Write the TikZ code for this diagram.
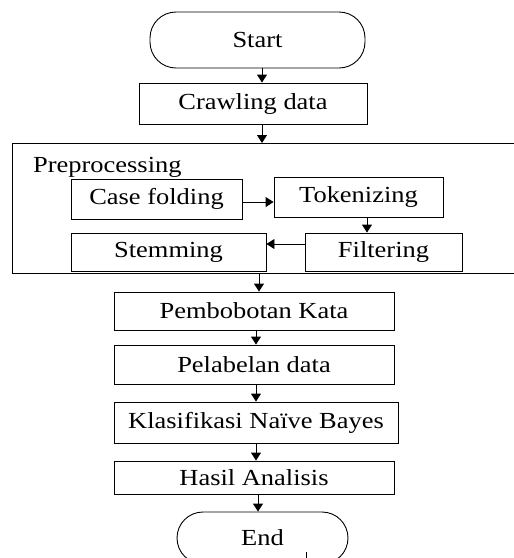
\documentclass[tikz,border=0pt]{standalone}
\usepackage{fontspec}
\usepackage{graphicx}
\setmainfont{Liberation Serif}
\usetikzlibrary{arrows.meta}
\newcommand{\TT}[1]{\scalebox{1.15}[1]{#1}}
\tikzset{
  box/.style={draw, line width=0.9pt, inner sep=0pt, font=\fontsize{23}{27}\selectfont},
  term/.style={box, rounded corners=26pt},
  arr/.style={line width=0.9pt, -{Triangle[length=8pt,width=10pt]}},
  ln/.style={line width=0.9pt}
}
\begin{document}
\begin{tikzpicture}[x=1pt,y=-1pt]
\useasboundingbox (0,0) rectangle (514,558);
% terminals and boxes
\node[term, minimum width=215pt, minimum height=56pt] (start) at (257.5,40) {\TT{Start}};
\node[box, minimum width=228pt, minimum height=41pt] (crawl) at (253,103.5) {\TT{Crawling data}};
% preprocessing frame (open on the right)
\draw[ln] (516,143) -| (12,273) -- (516,273);
\coordinate (preT) at (262,143);
\coordinate (preB) at (259,273);
\node[anchor=base west, inner sep=0pt, font=\fontsize{23}{27}\selectfont] (prelabel) at (33,172) {\TT{Preprocessing}};
\node[box, minimum width=171pt, minimum height=40pt] (cf) at (156.5,199) {\TT{Case folding}};
\node[box, minimum width=169pt, minimum height=40pt] (tok) at (358.5,197) {\TT{Tokenizing}};
\node[box, minimum width=157pt, minimum height=38pt] (fil) at (383.5,252) {\raisebox{-2pt}{\TT{Filtering}}};
\node[box, minimum width=195pt, minimum height=38pt] (stem) at (168.5,252) {\TT{Stemming}};
\node[box, minimum width=280pt, minimum height=38pt] (pemb) at (254,311) {\TT{Pembobotan Kata}};
\node[box, minimum width=280pt, minimum height=39pt] (pel) at (254,364.5) {\TT{Pelabelan data}};
\node[box, minimum width=284pt, minimum height=41pt] (klas) at (256,422.5) {\TT{Klasifikasi Naïve Bayes}};
\node[box, minimum width=280pt, minimum height=33pt] (hasil) at (254,477.5) {\TT{Hasil Analisis}};
\begin{scope}
\clip (0,0) rectangle (514,558);
\node[term, minimum width=171pt, minimum height=52pt] (endn) at (262.5,538) {\TT{End}};
\coordinate (tickA) at (306,552);
\coordinate (tickB) at (306,560);
\draw[ln] (tickA) -- (tickB);
\end{scope}
% connector x positions
\coordinate (x1) at (262,0);
\coordinate (x2) at (259,0);
\coordinate (x3) at (256,0);
\coordinate (x4) at (258,0);
\coordinate (x5) at (367,0);
\coordinate (y1) at (0,202);
\coordinate (y2) at (0,244);
% connectors
\draw[arr] (start.south -| x1) -- (crawl.north -| x1);
\draw[arr] (crawl.south -| x1) -- (preT);
\draw[arr] (cf.east |- y1) -- (tok.west |- y1);
\draw[arr] (tok.south -| x5) -- (fil.north -| x5);
\draw[arr] (fil.west |- y2) -- (stem.east |- y2);
\draw[arr] (preB) -- (pemb.north -| x2);
\draw[arr] (pemb.south -| x3) -- (pel.north -| x3);
\draw[arr] (pel.south -| x3) -- (klas.north -| x3);
\draw[arr] (klas.south -| x3) -- (hasil.north -| x3);
\draw[arr] (hasil.south -| x4) -- (endn.north -| x4);
\end{tikzpicture}
\end{document}
